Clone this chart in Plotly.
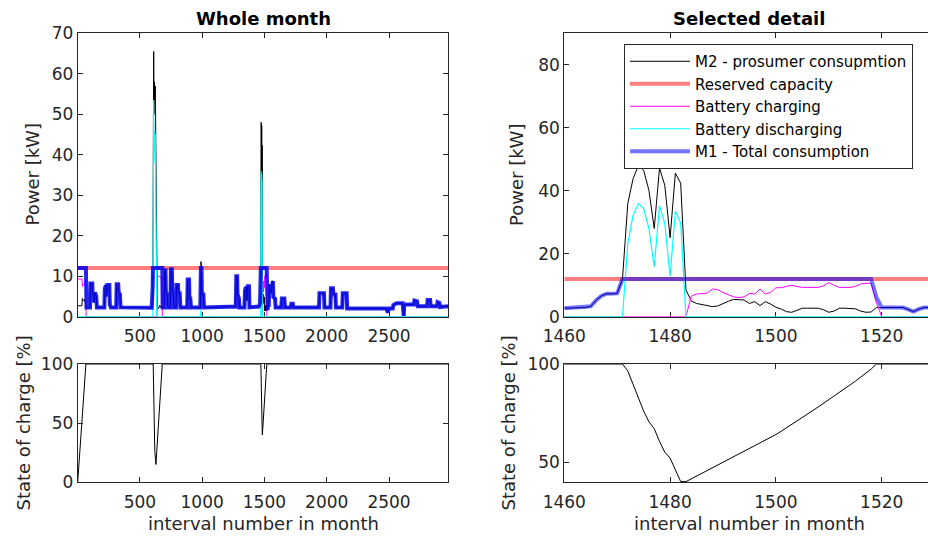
import numpy as np
import plotly.graph_objects as go

RESERVED_KW = 12

# ---------------- Selected detail (intervals 1460..1529) ----------------
det_m1_x = [1460, 1461, 1462, 1463, 1464, 1465, 1466, 1467, 1468, 1469, 1470, 1471, 1518, 1519, 1520,
            1521, 1522, 1523, 1524, 1525, 1526, 1527, 1528, 1529]
det_m1_y = [2.7, 2.8, 2.8, 2.9, 2.9, 3.3, 5.2, 6.6, 7.3, 7.2, 7.4, 12.0, 12.0, 6.2, 2.9,
            2.9, 2.9, 2.9, 2.9, 2.3, 1.6, 2.4, 2.9, 2.9]

det_m2_x = [1460, 1461, 1462, 1463, 1464, 1465, 1466, 1467, 1468, 1469, 1470, 1471, 1472, 1473, 1474,
            1475, 1476, 1477, 1478, 1479, 1480, 1481, 1482, 1483, 1484, 1485, 1486, 1487, 1488, 1489,
            1490, 1491, 1492, 1493, 1494, 1495, 1496, 1497, 1498, 1499, 1500, 1501, 1502, 1503, 1504,
            1505, 1506, 1507, 1508, 1509, 1510, 1511, 1512, 1513, 1514, 1515, 1516, 1517, 1518, 1519,
            1520, 1521, 1522, 1523, 1524, 1525, 1526, 1527, 1528, 1529]
det_m2_y = [2.7, 2.8, 2.8, 2.9, 2.9, 3.3, 5.2, 6.6, 7.3, 7.2, 7.4, 12.0, 35.9, 43.8, 48.0,
            46.5, 40.1, 28.0, 47.2, 41.7, 25.1, 45.6, 42.4, 8.5, 5.0, 4.2, 3.9, 3.6, 3.2, 3.4,
            4.2, 4.9, 5.5, 5.5, 5.3, 4.2, 4.8, 3.5, 4.8, 4.0, 3.0, 2.4, 1.6, 1.4, 2.0,
            2.7, 2.7, 2.7, 2.7, 2.2, 1.4, 1.8, 2.7, 2.7, 2.7, 2.5, 1.8, 1.4, 1.5, 2.9,
            2.9, 2.9, 2.9, 2.9, 2.9, 2.3, 1.6, 2.4, 2.9, 2.9]

det_chg_x = [1460, 1483, 1484, 1485, 1486, 1487, 1488, 1489, 1490, 1491, 1492, 1493, 1494, 1495, 1496,
             1497, 1498, 1499, 1500, 1501, 1502, 1503, 1504, 1505, 1506, 1507, 1508, 1509, 1510, 1511,
             1512, 1513, 1514, 1515, 1516, 1517, 1518, 1519, 1520, 1529]
det_chg_y = [0.0, 0.0, 6.5, 7.2, 7.3, 7.5, 8.8, 8.6, 7.7, 7.0, 6.3, 6.1, 6.3, 7.4, 7.2,
             8.8, 7.2, 7.7, 9.2, 9.2, 9.6, 10.0, 9.6, 9.3, 9.3, 9.3, 9.3, 9.8, 10.8, 10.0,
             9.3, 9.3, 9.3, 9.6, 10.4, 10.6, 10.6, 4.5, 0.0, 0.0]

det_dis_x = [1460, 1471, 1472, 1473, 1474, 1475, 1476, 1477, 1478, 1479, 1480, 1481, 1482, 1483, 1529]
det_dis_y = [0.0, 0.0, 23.2, 32.2, 35.9, 34.3, 28.0, 15.8, 35.2, 29.6, 12.9, 33.6, 29.8, 0.0, 0.0]

det_soc_x = [1460, 1471, 1472, 1473, 1474, 1475, 1476, 1477, 1478, 1479, 1480, 1481, 1482, 1483,
             1484, 1485, 1486, 1487, 1488, 1489, 1490, 1491, 1492, 1493, 1494, 1495, 1496, 1497,
             1498, 1499, 1500, 1501, 1502, 1503, 1504, 1505, 1506, 1507, 1508, 1509, 1510, 1511,
             1512, 1513, 1514, 1515, 1516, 1517, 1518, 1519, 1529]
det_soc_y = [100, 100, 96.5, 89.5, 83.0, 76.0, 70.5, 67.0, 60.5, 55.0, 52.0, 46.0, 40.0, 40.0,
             41.4, 42.8, 44.2, 45.6, 47.0, 48.5, 50.0, 51.4, 52.8, 54.2, 55.6, 57.0, 58.4, 59.8,
             61.2, 62.6, 64.0, 65.7, 67.4, 69.1, 70.9, 72.7, 74.5, 76.3, 78.1, 79.9, 81.7, 83.6,
             85.5, 87.4, 89.3, 91.2, 93.2, 95.2, 97.4, 100, 100]

# ---------------- Whole month (intervals 1..2976) ----------------
m1_month_before_x = [1, 67, 72, 100, 104, 118, 121, 130, 134, 140, 150, 155, 215, 219, 228, 234, 240,
                     255, 259, 268, 310, 314, 326, 330, 340, 345, 595, 600, 603, 605, 680, 683, 695,
                     699, 706, 709, 720, 725, 745, 749, 757, 760, 770, 775, 790, 794, 806, 809, 820,
                     825, 880, 884, 895, 898, 905, 910, 985, 990, 995, 998, 1010, 1015, 1270, 1274,
                     1281, 1284, 1295, 1300, 1340, 1344, 1352, 1358, 1366, 1376, 1380, 1455]
m1_month_before_y = [12, 12, 2.3, 2.3, 8.2, 8.2, 5.5, 5.5, 3.5, 6.0, 5.0, 2.3, 2.3, 7.0, 7.8, 5.0, 7.8,
                     7.8, 3.0, 2.3, 2.3, 8.0, 8.0, 6.0, 5.5, 2.3, 2.2, 4.0, 7.5, 12, 12, 2.3, 2.3,
                     11.5, 11.5, 6.0, 5.5, 2.3, 2.3, 11.7, 11.7, 7.0, 5.0, 2.3, 2.3, 7.8, 7.8, 5.8, 5.8,
                     2.3, 2.3, 9.2, 9.2, 4.5, 4.5, 2.3, 2.3, 12, 12, 5.5, 5.5, 2.3, 2.5, 10.0,
                     10.0, 5.5, 4.5, 2.3, 2.3, 6.5, 7.4, 4.0, 7.5, 7.5, 2.3, 2.5]
m1_month_after_x = [1535, 1539, 1545, 1556, 1560, 1568, 1572, 1585, 1590, 1635, 1640, 1660, 1665,
                    1712, 1716, 1728, 1732, 1938, 1942, 1978, 1982, 2030, 2034, 2050, 2054, 2070,
                    2074, 2125, 2129, 2160, 2164, 2480, 2490, 2500, 2530, 2535, 2560, 2610, 2618,
                    2622, 2700, 2704, 2725, 2730, 2805, 2810, 2830, 2835, 2885, 2890, 2905, 2910, 2976]
m1_month_after_y = [2.9, 8.0, 6.0, 6.0, 8.8, 8.8, 4.8, 4.5, 2.3, 2.3, 4.5, 4.5, 2.3,
                    2.3, 3.2, 3.2, 2.3, 2.3, 5.8, 5.8, 2.3, 2.3, 7.0, 7.0, 5.5, 5.5,
                    2.3, 2.3, 5.8, 5.8, 2.0, 2.0, 1.0, 2.0, 2.0, 2.9, 3.3, 3.3, 0.2,
                    3.0, 3.0, 4.0, 3.8, 2.6, 2.6, 4.1, 4.1, 2.6, 2.6, 3.6, 3.4, 2.4, 2.6]

# M2 where it differs from M1 (battery active) in the whole month
m2_month_event_windows = [(1, 72), (596, 690), (986, 999)]
m2_month_event_x = [1, 35, 38, 48, 55, 62, 70, 72,
                    596, 600, 603, 605, 608, 611, 614, 617, 620, 624, 628, 633, 636, 640, 650, 660, 670, 680, 690,
                    986, 990, 995, 998]
m2_month_event_y = [2.7, 2.7, 4.5, 4.0, 4.2, 3.0, 2.5, 2.3,
                    2.2, 4.0, 7.5, 12, 40, 65.5, 50, 58, 53, 57, 45, 30, 12, 2.5, 2.0, 2.8, 2.2, 2.3, 2.3,
                    2.3, 13.6, 12.5, 5.5]

chg_month_ev_x = [1, 35, 40, 55, 66, 68, 637, 640, 650, 660, 670, 678, 680]
chg_month_ev_y = [9.3, 9.3, 7.5, 8.0, 9.0, 0.0, 0.0, 9.7, 10.0, 9.8, 9.7, 9.7, 0.0]

dis_month_ev_x = [1, 605, 608, 611, 614, 617, 620, 624, 628, 633, 636, 988, 990, 995, 997]
dis_month_ev_y = [0, 0, 28, 53.5, 38, 46, 41, 45, 33, 18, 0, 0, 1.6, 0.5, 0]

soc_month_ev_x = [1, 67, 607, 620, 629, 680]
soc_month_ev_y = [0, 100, 100, 26, 15, 100]

MONTH_END = 2976

# ---------------- assemble series ----------------
m1_month_x = m1_month_before_x + det_m1_x + m1_month_after_x
m1_month_y = m1_month_before_y + det_m1_y + m1_month_after_y

bx = np.array(m1_month_x, float)
by = np.array(m1_month_y, float)
keep = np.ones(len(bx), bool)
for a, b in m2_month_event_windows + [(det_m2_x[0], det_m2_x[-1])]:
    keep &= ~((bx >= a) & (bx <= b))
m2x = np.concatenate([bx[keep], m2_month_event_x, det_m2_x])
m2y = np.concatenate([by[keep], m2_month_event_y, det_m2_y])
order = np.argsort(m2x, kind="stable")
m2_month_x, m2_month_y = m2x[order], m2y[order]

chg_month_x = chg_month_ev_x + det_chg_x + [MONTH_END]
chg_month_y = chg_month_ev_y + det_chg_y + [0]
dis_month_x = dis_month_ev_x + det_dis_x + [MONTH_END]
dis_month_y = dis_month_ev_y + det_dis_y + [0]
soc_month_x = soc_month_ev_x + det_soc_x + [MONTH_END]
soc_month_y = soc_month_ev_y + det_soc_y + [100]

# ---------------- styling ----------------
FONT = "DejaVu Sans"
AX = "#262626"
C_M2 = "#000000"
C_RES = "rgba(255,0,0,0.5)"
C_CHG = "#ff00ff"
C_DIS = "#00ffff"
C_M1 = "rgba(0,0,255,0.55)"
C_M1_MONTH = "rgba(0,0,235,0.85)"

fig = go.Figure()

def add(x, y, name, color, width, xa, ya, show):
    fig.add_trace(go.Scatter(x=list(x), y=list(y), mode="lines", name=name,
                             line=dict(color=color, width=width),
                             xaxis=xa, yaxis=ya, showlegend=show,
                             legendgroup=name, hoverinfo="skip"))

# whole month power
add(m2_month_x, m2_month_y, "M2 - prosumer consupmtion", C_M2, 1, "x", "y", False)
add([1, MONTH_END], [RESERVED_KW, RESERVED_KW], "Reserved capacity", C_RES, 4, "x", "y", False)
add(chg_month_x, chg_month_y, "Battery charging", C_CHG, 1, "x", "y", False)
add(dis_month_x, dis_month_y, "Battery discharging", C_DIS, 1.2, "x", "y", False)
add(m1_month_x, m1_month_y, "M1 - Total consumption", C_M1_MONTH, 4, "x", "y", False)

# detail power
add(det_m2_x, det_m2_y, "M2 - prosumer consupmtion", C_M2, 1, "x2", "y2", True)
add([1460, 1529], [RESERVED_KW, RESERVED_KW], "Reserved capacity", C_RES, 4, "x2", "y2", True)
add(det_chg_x, det_chg_y, "Battery charging", C_CHG, 1, "x2", "y2", True)
add(det_dis_x, det_dis_y, "Battery discharging", C_DIS, 1.2, "x2", "y2", True)
add(det_m1_x, det_m1_y, "M1 - Total consumption", C_M1, 4, "x2", "y2", True)

# state of charge
add(soc_month_x, soc_month_y, "SOC month", C_M2, 1, "x3", "y3", False)
add(det_soc_x, det_soc_y, "SOC detail", C_M2, 1, "x4", "y4", False)

W, H = 928, 542
def px(v):
    return v / W
def py(v):
    return 1 - v / H

tickfont = dict(family=FONT, size=17, color=AX)
base = dict(showline=True, linecolor=AX, linewidth=1, ticks="inside", ticklen=5,
            tickcolor=AX, showgrid=False, zeroline=False, tickfont=tickfont,
            layer="below traces", automargin=False)

L_DOM = [px(77.7), px(448.3)]
R_DOM = [px(564.3), 1.0]
T_DOM = [py(316.7), py(33.3)]
B_DOM = [py(482.2), py(364)]

fig.update_layout(
    width=W, height=H, margin=dict(l=0, r=0, t=0, b=0, pad=0, autoexpand=False),
    paper_bgcolor="white", plot_bgcolor="white",
    font=dict(family=FONT, color=AX),
    xaxis=dict(base, domain=L_DOM, range=[1, MONTH_END], tickvals=[500, 1000, 1500, 2000, 2500],
               mirror="ticks", anchor="y", ticklabelstandoff=4),
    yaxis=dict(base, domain=T_DOM, range=[0, 70], tickvals=list(range(0, 71, 10)),
               mirror="ticks", anchor="x"),
    xaxis2=dict(base, domain=R_DOM, range=[1460, 1528.75], tickvals=[1460, 1480, 1500, 1520],
                mirror="ticks", anchor="y2", ticklabelstandoff=4),
    yaxis2=dict(base, domain=T_DOM, range=[0, 90], tickvals=[0, 20, 40, 60, 80], anchor="x2"),
    xaxis3=dict(base, domain=L_DOM, range=[1, MONTH_END], tickvals=[500, 1000, 1500, 2000, 2500],
                mirror="ticks", anchor="y3", ticklabelstandoff=4),
    yaxis3=dict(base, domain=B_DOM, range=[0, 100], tickvals=[0, 50, 100], mirror="ticks", anchor="x3"),
    xaxis4=dict(base, domain=R_DOM, range=[1460, 1528.75], tickvals=[1460, 1480, 1500, 1520],
                mirror="ticks", anchor="y4", ticklabelstandoff=4),
    yaxis4=dict(base, domain=B_DOM, range=[39.7, 100], tickvals=[50, 100], anchor="x4"),
    legend=dict(x=px(624), y=py(44), xanchor="left", yanchor="top",
                bgcolor="white", bordercolor=AX, borderwidth=1,
                font=dict(family=FONT, size=15, color="#000000"),
                itemwidth=60, tracegroupgap=0),
)

def ann(text, x, y, size=18, angle=0, bold=False, color="#000000"):
    fig.add_annotation(text=f"<b>{text}</b>" if bold else text, x=x, y=y, xref="paper", yref="paper",
                       showarrow=False, textangle=angle, xanchor="center", yanchor="middle",
                       font=dict(family=FONT, size=size, color=color))

ann("Whole month", px(263), py(18.5), 18, bold=True)
ann("Selected detail", px(749), py(18.5), 18, bold=True)
ann("Power [kW]", px(32.5), py(175), 18, angle=-90, color=AX)
ann("Power [kW]", px(517), py(175), 18, angle=-90, color=AX)
ann("State of charge [%]", px(22.5), py(423), 18, angle=-90, color=AX)
ann("State of charge [%]", px(507.5), py(423), 18, angle=-90, color=AX)
ann("interval number in month", px(263), py(523), 18, color=AX)
ann("interval number in month", px(749), py(523), 18, color=AX)

fig.write_html("out.html")
